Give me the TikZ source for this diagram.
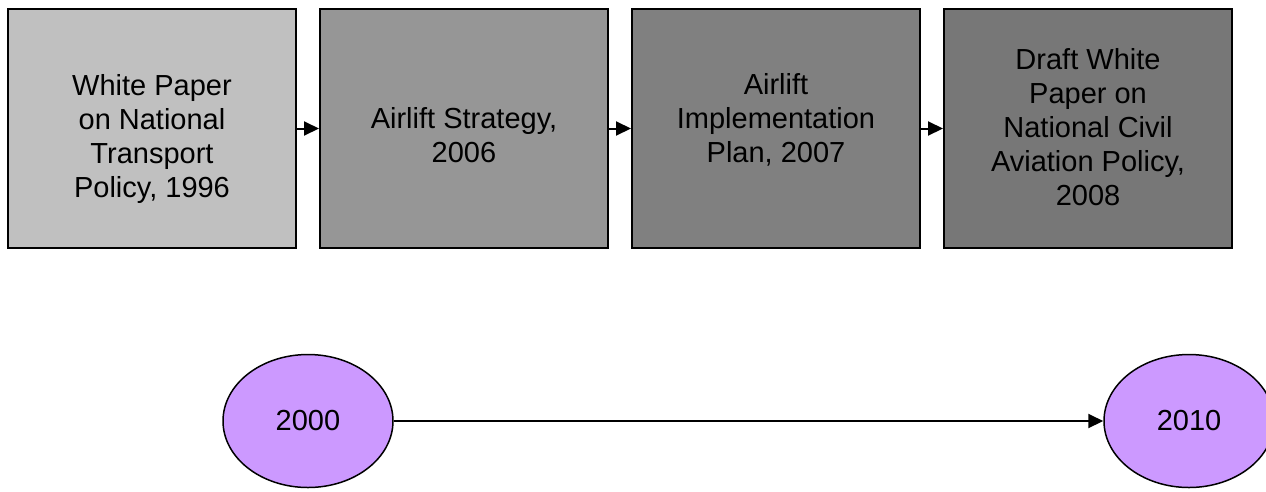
\documentclass[tikz,border=0pt]{standalone}
\usepackage{fontspec}
\setmainfont{Liberation Sans}
\usetikzlibrary{arrows.meta,shapes.geometric}
\begin{document}
\begin{tikzpicture}[x=1pt,y=-1pt,
  stagebox/.style={draw=black,line width=2pt,minimum width=288pt,minimum height=239pt,inner sep=0pt},
  stagetext/.style={align=center,font=\fontsize{29}{34}\selectfont,inner sep=0pt},
  yearnode/.style={ellipse,draw=black,line width=1.5pt,fill=yearfill,minimum width=170pt,minimum height=133pt,inner sep=0pt,font=\fontsize{29}{34}\selectfont},
  link/.style={line width=2pt,-{Triangle[length=15pt,width=14pt]}}]
\definecolor{yearfill}{HTML}{CC99FF}
\useasboundingbox (0,0) rectangle (1266,491);
\clip (0,0) rectangle (1266,491);
% policy documents, left to right
\node[stagebox,fill={rgb,255:red,192;green,192;blue,192}] (s1) at (152,128.5) {};
\node[stagebox,fill={rgb,255:red,150;green,150;blue,150}] (s2) at (464,128.5) {};
\node[stagebox,fill={rgb,255:red,128;green,128;blue,128}] (s3) at (776,128.5) {};
\node[stagebox,fill={rgb,255:red,119;green,119;blue,119}] (s4) at (1088,128.5) {};
\node[stagetext] (t1) at (152,138.5) {White Paper\\on National\\Transport\\Policy, 1996};
\node[stagetext] (t2) at (464,135) {Airlift Strategy,\\2006};
\node[stagetext] (t3) at (776,120) {Airlift\\Implementation\\Plan, 2007};
\node[stagetext] (t4) at (1088,127.5) {Draft White\\Paper on\\National Civil\\Aviation Policy,\\2008};
\draw[link] (s1.east) -- (s2.west);
\draw[link] (s2.east) -- (s3.west);
\draw[link] (s3.east) -- (s4.west);
% time axis
\node[yearnode] (y1) at (308,421) {2000};
\node[yearnode] (y2) at (1189,421) {2010};
\draw[link] (y1.east) -- (y2.west);
\end{tikzpicture}
\end{document}
